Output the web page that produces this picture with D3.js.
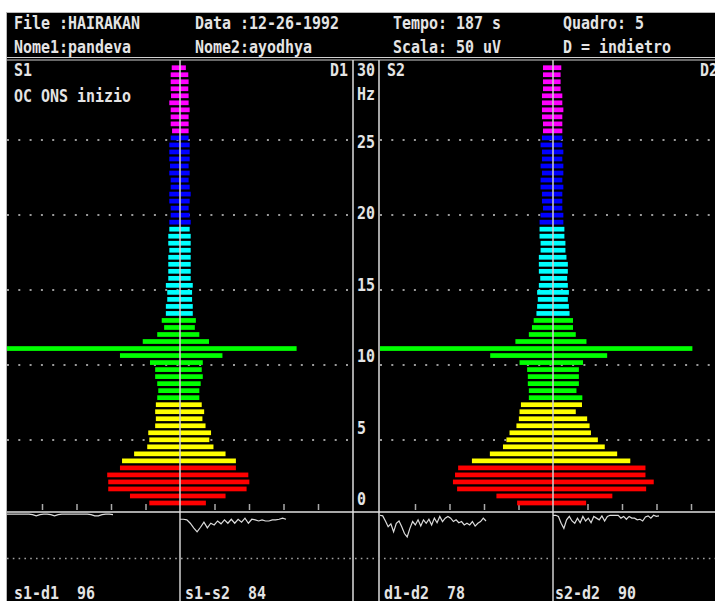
<!DOCTYPE html>
<html>
<head>
<meta charset="utf-8">
<script src="https://cdn.jsdelivr.net/npm/d3@7"></script>
<style>
  body { margin: 0; background: #fff; }
  svg { display: block; }
  .txt { font-family: "DejaVu Sans Mono", monospace; font-weight: bold; font-size: 17px; fill: #e4e4e4; white-space: pre; }
</style>
</head>
<body>
<svg width="715" height="601"></svg>
<script>
// --- data ---------------------------------------------------------------
const headerRow1 = ["File :HAIRAKAN", "Data :12-26-1992", "Tempo: 187 s", "Quadro: 5"];
const headerRow2 = ["Nome1:pandeva", "Nome2:ayodhya", "Scala: 50 uV", "D = indietro"];

// frequency bands (bins per band, bottom -> top)
const bandColors = ["#ff0000", "#ffff00", "#00ff00", "#00ffff", "#0000ff", "#ff00ff"];
const bandBins = [6, 9, 12, 13, 13, 10];

// spectra, lowest frequency bin first (left half / right half of each panel)
const s1Amp = [8.9,14.5,20.8,20.8,21.1,17.4, 16.8,13.3,9.5,8.9,9.2,7.2,7.0,7.2,7.0,
  6.6,6.3,6.6,7.2,7.2,8.7,17.4,52,10.8,6.6,4.6,5.3,
  4.1,4.1,3.7,3.7,4.1,3.4,3.4,3.4,3.4,3.1,3.4,3.4,3.1,
  3.1,2.7,2.7,3.1,3.1,2.7,2.7,3.1,2.9,3.1,3.1,3.1,2.7,
  2.3,2.7,2.7,2.7,3.1,2.6,2.7,2.7,2.7,2.4];
const d1Amp = [7.5,13.2,19.3,20.1,19.8,16.2, 16.2,13.2,9.7,8.5,9.0,7.4,6.5,7.0,6.3,
  5.6,5.6,6.0,6.6,6.3,6.6,12.3,33.8,8.4,5.6,4.3,4.6,
  3.7,3.7,3.5,3.5,3.7,3.1,3.1,3.1,3.1,3.1,3.1,3.1,2.8,
  3.1,2.8,2.5,2.8,3.1,2.8,2.5,2.8,2.5,2.8,2.8,2.8,2.5,
  2.5,2.5,2.5,2.8,2.5,2.5,2.4,2.5,2.4,1.7];
const s2Amp = [10.4,16.4,27.8,29.0,28.4,27.5, 23.5,18.3,14.5,13.5,12.6,10.6,9.9,9.7,9.3,
  7.0,7.0,7.3,7.3,7.5,9.7,18.2,52,10.9,7.0,6.1,5.6,
  4.8,4.6,4.4,4.6,4.1,3.7,4.1,4.1,4.1,3.6,3.6,3.9,3.9,
  3.9,3.6,2.9,3.2,3.2,3.6,3.6,3.2,3.6,3.2,3.2,3.6,3.2,
  2.9,2.9,3.2,3.2,3.2,3.2,2.9,2.9,2.9,2.9];
const d2Amp = [9.6,17.2,27.0,29.2,26.8,26.8, 22.4,18.6,15.0,13.0,11.0,10.6,9.9,6.6,8.4,
  8.5,6.8,7.5,7.5,7.5,8.7,15.7,40.4,9.7,6.6,5.8,5.8,
  4.8,4.6,4.3,4.6,4.3,4.1,4.3,4.3,3.9,3.6,3.6,3.3,3.3,
  3.0,3.0,2.7,2.7,2.7,3.0,2.7,3.0,3.0,2.7,3.0,2.7,2.7,
  2.7,2.7,2.7,3.0,2.7,2.7,2.2,2.2,2.2,2.4];

const hzTicks = [0, 5, 10, 15, 20, 25, 30];
const gridHz = [5, 10, 15, 20, 25];
const ampTicks = [-40, -30, -20, -10, 10, 20, 30, 40];

// coherence traces
const cohNames = ["s1-d1", "s1-s2", "d1-d2", "s2-d2"];
const cohMeans = [96, 84, 78, 90];
const cohS1D1 = [0.98,0.98,0.98,0.98,0.98,0.98,0.98,0.97,0.95,0.97,0.98,0.98,0.97,0.95,0.97,
  0.98,0.98,0.98,0.98,0.98,0.98,0.98,0.98,0.97,0.95,0.95,0.97,0.98,0.98,0.97];
const cohS1S2 = [0.89,0.89,0.88,0.82,0.74,0.67,0.75,0.84,0.74,0.82,0.79,0.86,0.81,0.88,0.82,0.89,
  0.82,0.89,0.84,0.91,0.82,0.89,0.88,0.86,0.88,0.86,0.86,0.88,0.88,0.89,0.91,0.89];
const cohD1D2 = [0.96,0.95,0.86,0.76,0.81,0.67,0.82,0.86,0.76,0.64,0.58,0.73,0.85,0.79,0.88,0.77,
  0.88,0.82,0.89,0.79,0.91,0.83,0.94,0.85,0.91,0.94,0.91,0.85,0.88,0.83,0.85,0.79,0.82,0.79,
  0.85,0.77,0.82,0.85,0.91,0.86];
const cohS2D2 = [0.96,0.96,0.94,0.82,0.73,0.88,0.94,0.86,0.82,0.91,0.83,0.94,0.86,0.91,0.83,0.94,
  0.91,0.88,0.95,0.86,0.94,0.96,0.96,0.96,0.96,0.91,0.94,0.89,0.94,0.91,0.91,0.88,0.89,0.86,
  0.93,0.95,0.91,0.96,0.94,0.95];

// --- layout -------------------------------------------------------------
const W = 715, H = 601;
const CW = 9; // DOS character cell width
const LINE = "#d0d0d0";

const panels = [
  { x0: 7, x1: 352, cx: 180, left: s1Amp, right: d1Amp, lName: "S1", rName: "D1" },
  { x0: 380, x1: 715, cx: 553, left: s2Amp, right: d2Amp, lName: "S2", rName: "D2" }
];
const traces = [
  { data: cohS1D1, x: 7 }, { data: cohS1S2, x: 180 },
  { data: cohD1D2, x: 380 }, { data: cohS2D2, x: 553 }
];

const svg = d3.select("svg");

const label = (x, y, str) =>
  svg.append("text").attr("class", "txt")
     .attr("x", x).attr("y", y)
     .attr("textLength", str.length * CW)
     .attr("lengthAdjust", "spacingAndGlyphs")
     .text(str);

// black screen + border
svg.append("rect")
   .attr("x", 6.5).attr("y", 12.5)
   .attr("width", W).attr("height", H)
   .attr("fill", "#000").attr("stroke", "#b8b8b8");

// header
const colX = [14, 195, 393, 563];
headerRow1.forEach((t, i) => label(colX[i], 29, t));
headerRow2.forEach((t, i) => label(colX[i], 52.5, t));
[57.5, 60].forEach(y =>
  svg.append("line").attr("x1", 7).attr("x2", W).attr("y1", y).attr("y2", y)
     .attr("stroke", LINE).attr("stroke-width", 1.2));

// scales
const nBins = s1Amp.length;
const yBin = d3.scaleBand().domain(d3.range(nBins)).range([506.5, 64.2])
               .paddingInner(0.33).paddingOuter(0.165);
const gridY = d3.scaleLinear().domain([0, 30]).range([515, 65]);
const labelY = d3.scaleLinear().domain([0, 30]).range([498.5, 69]);
const xAmp = d3.scaleLinear().domain([0, 50]).range([0, 172.5]);
const bandColor = d3.scaleThreshold()
                    .domain(Array.from(d3.cumsum(bandBins)).slice(0, -1))
                    .range(bandColors);
const cohY = d3.scaleLinear().domain([0, 1]).range([570, 513]);

const defs = svg.append("defs");

panels.forEach((p, k) => {
  defs.append("clipPath").attr("id", "clip" + k)
      .append("rect").attr("x", p.x0).attr("y", 60).attr("width", p.x1 - p.x0).attr("height", 452);

  // dotted frequency grid
  svg.append("g").selectAll("line")
     .data(gridHz).enter().append("line")
     .attr("x1", p.x0).attr("x2", p.x1)
     .attr("y1", d => gridY(d)).attr("y2", d => gridY(d))
     .attr("stroke", "#9a9a9a").attr("stroke-width", 2)
     .attr("stroke-dasharray", "2,9.3");

  // amplitude ticks along the bottom
  const ampAxis = d3.scaleLinear().domain([-50, 50]).range([p.cx - xAmp(50), p.cx + xAmp(50)]);
  const ax = svg.append("g").attr("transform", "translate(0,510)")
     .call(d3.axisTop(ampAxis).tickValues(ampTicks).tickSize(6).tickFormat(""));
  ax.select(".domain").remove();
  ax.selectAll("line").attr("stroke", "#aaa").attr("stroke-width", 1.5);

  // spectrum bars: left half from p.left, right half from p.right
  svg.append("g").attr("clip-path", "url(#clip" + k + ")")
     .selectAll("rect")
     .data(d3.range(nBins)).enter().append("rect")
     .attr("x", i => p.cx - xAmp(p.left[i]))
     .attr("y", i => yBin(i))
     .attr("width", i => xAmp(p.left[i]) + xAmp(p.right[i]))
     .attr("height", yBin.bandwidth())
     .attr("fill", i => bandColor(i));

  // centre line
  svg.append("line").attr("x1", p.cx).attr("x2", p.cx).attr("y1", 60).attr("y2", H)
     .attr("stroke", LINE).attr("stroke-width", 1.5);

  label(p.x0 + 7, 76, p.lName);
  label(k === 0 ? 330 : 700, 76, p.rName);
});

label(14, 101.5, "OC ONS inizio");

// separators
[353, 379].forEach(x =>
  svg.append("line").attr("x1", x).attr("x2", x).attr("y1", 60).attr("y2", H)
     .attr("stroke", LINE).attr("stroke-width", 1.6));
svg.append("line").attr("x1", 7).attr("x2", W).attr("y1", 512).attr("y2", 512)
   .attr("stroke", "#e0e0e0").attr("stroke-width", 1.6);

// Hz axis
const hz = svg.append("g").attr("transform", "translate(357,0)")
   .call(d3.axisRight(labelY).tickValues(hzTicks).tickSize(0).tickPadding(0));
hz.select(".domain").remove();
hz.attr("font-size", null).attr("font-family", null);
hz.selectAll("text").attr("class", "txt").attr("dy", "0.38em")
  .attr("textLength", d => String(d).length * CW)
  .attr("lengthAdjust", "spacingAndGlyphs");
label(357, 100, "Hz");

// coherence section
svg.append("line").attr("x1", 7).attr("x2", W)
   .attr("y1", cohY(0.2)).attr("y2", cohY(0.2))
   .attr("stroke", "#a0a0a0").attr("stroke-width", 1.5)
   .attr("stroke-dasharray", "1.6,4.2");

traces.forEach((t, i) => {
  const cx = d3.scaleLinear().domain([0, t.data.length - 1]).range([t.x, t.x + 106]);
  svg.append("path")
     .datum(t.data)
     .attr("d", d3.line().x((d, j) => cx(j)).y(d => cohY(d)))
     .attr("fill", "none").attr("stroke", "#dcdcdc").attr("stroke-width", 1.2);
  label([14, 185, 384, 555][i], 599, cohNames[i] + "  " + cohMeans[i]);
});
</script>
</body>
</html>
